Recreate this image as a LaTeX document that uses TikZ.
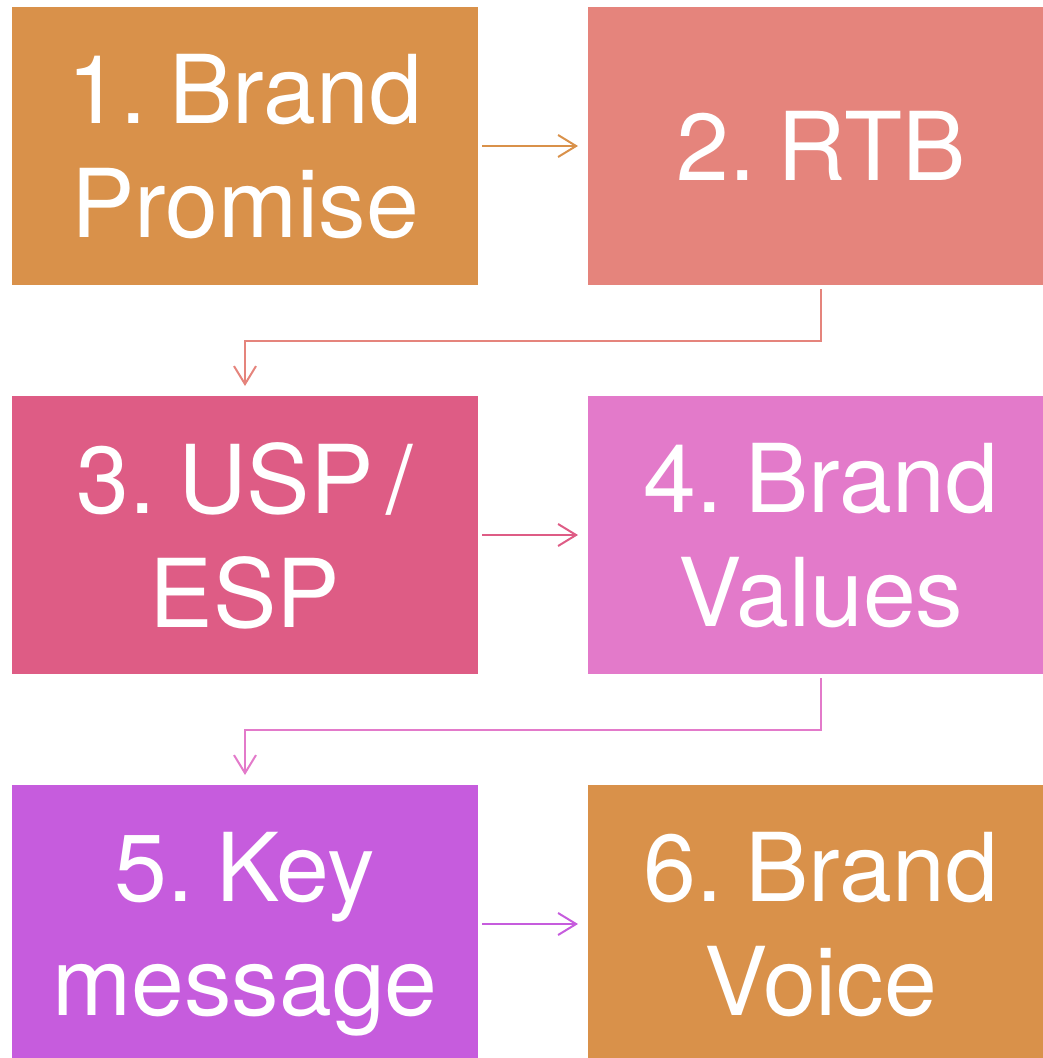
\documentclass[tikz,border=0pt]{standalone}
\usepackage{fontspec}
\setmainfont[WordSpace=0.5]{TeX Gyre Heros}
\usepackage{xcolor}
\usetikzlibrary{arrows.meta,positioning,calc}

\definecolor{boxorange}{HTML}{D9914A}
\definecolor{boxsalmon}{HTML}{E5847C}
\definecolor{boxrose}{HTML}{DE5C85}
\definecolor{boxpink}{HTML}{E37ACA}
\definecolor{boxviolet}{HTML}{C65CDD}

\begin{document}
\begin{tikzpicture}[x=1pt, y=-1pt, line width=2pt,
    >={Straight Barb[length=18pt,width=22pt]},
    box/.style={fill=#1, minimum width=466pt, minimum height=278pt, inner sep=0pt,
        text=white, align=center, text depth=0pt,
        font=\fontsize{95}{114}\selectfont},
    link/.style={draw=#1, ->, shorten <=3pt, shorten >=9pt}]

        \useasboundingbox (0,0) rectangle (1043,1058);
        \clip (0,0) rectangle (1043,1058);

        % Nodes
        \node[box=boxorange] (A) at (245,146) {1. Brand\\Promise};
        \node[box=boxsalmon] (B) at (821,146) {2. RTB};
        \node[box=boxrose]   (C) at (245,535) {3. USP /\\ESP};
        \node[box=boxpink]   (D) at (821,535) {4. Brand\\Values};
        \node[box=boxviolet] (E) at (245,924) {5. Key\\message};
        \node[box=boxorange] (F) at (821,924) {6. Brand\\Voice};

        % Arrows
        \draw[link=boxorange] (A) -- (B);
        \draw[link=boxsalmon] (B.south) -- ++(0,55) -| (C.north);
        \draw[link=boxrose] (C) -- (D);
        \draw[link=boxpink] (D.south) -- ++(0,55) -| (E.north);
        \draw[link=boxviolet] (E) -- (F);

    \end{tikzpicture}
\end{document}
